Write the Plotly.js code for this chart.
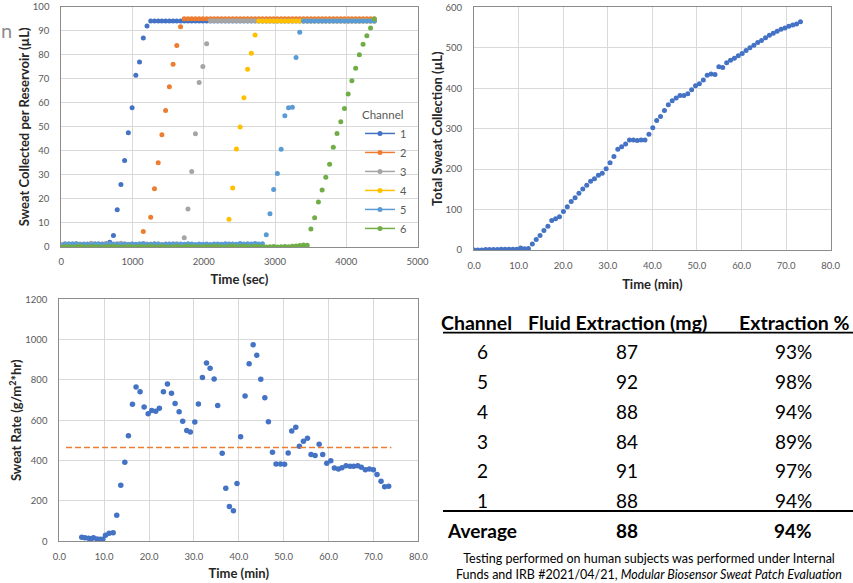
<!DOCTYPE html>
<html><head><meta charset="utf-8">
<script src="https://cdn.plot.ly/plotly-3.0.1.min.js"></script>
<style>html,body{margin:0;padding:0;background:#fff;}#chart{width:853px;height:583px;}</style>
</head><body><div id="chart"></div>
<script>
// ---------- DATA ----------
// Chart 1: sweat collected per reservoir (uL) vs time (sec)
const timeSec = [0,52,105,157,209,262,314,366,418,471,
  523,575,628,680,732,785,837,889,941,994,
  1046,1098,1151,1203,1255,1308,1360,1412,1464,1517,
  1569,1621,1674,1726,1778,1831,1883,1935,1987,2040,
  2092,2144,2197,2249,2301,2354,2406,2458,2510,2563,
  2615,2667,2720,2772,2824,2877,2929,2981,3033,3086,
  3138,3190,3243,3295,3347,3400,3452,3504,3556,3609,
  3661,3713,3766,3818,3870,3923,3975,4027,4079,4132,
  4184,4236,4289,4341,4393];
const channelNames = ['1','2','3','4','5','6'];
const channelColors = ['#4472C4','#ED7D31','#A5A5A5','#FFC000','#5B9BD5','#70AD47'];
const ch1 = [0.3,0.8,1.2,0.6,0.5,0.7,0.4,0.5,0.6,0.9,
  0.6,1.1,1.4,2.0,4.8,15.5,26.0,36.0,47.5,58.0,
  71.5,77.0,87.0,92.0,94,94,94,94,94,94,
  94,94,94,94,94,94,94,94,94,94,
  94,94,94,94,94,94,94,94,94,94,
  94,94,94,94,94,94,94,94,94,94,
  94,94,94,94,94,94,94,94,94,94,
  94,94,94,94,94,94,94,94,94,94,
  94,94,94,94,94];
const ch2 = [0.2,0.3,0.5,0.3,0.2,0.4,0.3,0.2,0.3,0.4,
  0.3,0.2,0.4,0.3,0.5,0.3,0.4,0.3,0.2,0.5,
  0.6,0.8,6.4,null,12.4,24.2,35.1,46.7,56.8,66.7,
  76.1,83.9,91.7,95,95,95,95,95,95,95,
  95,95,95,95,95,95,95,95,95,95,
  95,95,95,95,95,95,95,95,95,95,
  95,95,95,95,95,95,95,95,95,95,
  95,95,95,95,95,95,95,95,95,95,
  95,95,95,95,95];
const ch3 = [1.0,1.4,1.2,0.9,1.5,1.3,1.0,1.2,1.6,1.4,
  1.1,1.3,1.5,1.2,1.0,1.4,1.6,1.2,1.1,1.3,
  1.0,1.2,1.5,1.3,1.1,1.4,1.2,1.0,1.3,1.1,
  1.2,1.4,1.0,3.9,15.8,31.4,47.1,68.5,75.1,84.6,
  94.2,94.2,94.2,94.2,94.2,94.2,94.2,94.2,94.2,94.2,
  94.2,94.2,94.2,94.2,94.2,94.2,94.2,94.2,94.2,94.2,
  94.2,94.2,94.2,94.2,94.2,94.2,94.2,94.2,94.2,94.2,
  94.2,94.2,94.2,94.2,94.2,94.2,94.2,94.2,94.2,94.2,
  94.2,94.2,94.2,94.2,94.2];
const ch4 = [0.2,0.1,0.3,0.2,0.4,0.2,0.1,0.3,0.2,0.3,
  0.2,0.4,0.3,0.1,0.2,0.3,0.2,0.4,0.2,0.3,
  0.1,0.2,0.3,0.2,0.4,0.3,0.2,0.1,0.3,0.2,
  0.3,0.2,0.4,0.2,0.3,0.1,0.2,0.3,0.2,0.4,
  0.3,0.2,0.4,0.5,0.6,11.5,24.6,40.8,49.9,62.1,
  74.0,80.6,88.2,94,94,94,94,94,94,94,
  94,94,94,94,94,94,94,94,94,94,
  94,94,94,94,94,94,94,94,94,94,
  94,94,94,94,94];
const ch5 = [0.9,1.3,1.1,1.4,1.2,1.0,1.3,1.1,0.9,1.2,
  1.4,1.1,1.0,1.2,1.3,1.1,0.9,1.2,1.0,1.3,
  1.1,1.2,1.4,1.0,1.1,1.3,1.2,0.9,1.1,1.2,
  1.3,1.0,1.2,1.1,1.4,1.2,1.0,1.3,1.1,1.2,
  1.0,1.3,1.2,1.1,1.4,1.2,1.3,1.1,1.5,1.2,
  1.4,1.3,1.5,1.2,1.4,5.1,13.8,23.9,30.6,40.7,
  54.6,58.0,58.2,78.9,89.4,94,94,94,94,94,
  94,94,94,94,94,94,94,94,94,94,
  94,94,94,94,94];
const ch6 = [0.0,0.1,0.2,0.0,0.1,0.3,0.1,0.0,0.2,0.1,
  0.1,0.0,0.2,0.1,0.3,0.1,0.0,0.1,0.2,0.1,
  0.0,0.2,0.1,0.1,0.3,0.0,0.1,0.2,0.1,0.0,
  0.1,0.2,0.0,0.1,0.3,0.1,0.2,0.0,0.1,0.2,
  0.1,0.3,0.2,0.1,0.0,0.2,0.4,0.1,0.2,0.3,
  0.2,0.1,0.3,0.2,0.1,0.0,0.1,0.2,0.0,0.1,
  0.2,0.1,0.3,0.4,0.6,0.8,0.7,7.5,12.2,18.7,
  23.7,29.0,34.4,41.5,47.2,52.1,57.6,63.7,69.2,74.4,
  80.0,84.4,87.9,91.1,94.9];
const channelValues = [ch1, ch2, ch3, ch4, ch5, ch6];

// Chart 2: total sweat collection (uL) vs time (min)
const totalSweat = [0,0,0,1,1,1,1,2,2,2,
  2,2,5,3,4,15,26,36,48,59,
  73,77,82,95,107,120,129,140,151,160,
  170,176,185,190,201,216,231,249,255,262,
  272,272,271,272,272,286,302,320,330,345,
  359,369,376,382,382,386,396,406,411,420,
  432,435,434,453,451,463,469,474,480,486,
  493,500,506,513,518,525,531,536,541,546,
  549,553,556,559,564];

// Chart 3: sweat rate (g/m2*hr) vs time (min)
const rateTime = [5.0,5.7,6.5,7.1,7.6,8.4,9.1,9.7,10.3,11.1,
  12.0,12.8,13.7,14.6,15.4,16.3,17.1,18.0,18.9,19.8,
  20.6,21.5,22.3,23.2,24.1,25.0,25.8,26.7,27.5,28.4,
  29.2,30.2,31.0,31.9,32.8,33.6,34.5,35.3,36.3,37.1,
  37.9,38.8,39.6,40.4,41.4,42.3,43.2,44.0,44.9,45.8,
  46.6,47.5,48.3,49.3,50.2,51.0,51.8,52.7,53.5,54.4,
  55.3,56.1,57.0,57.9,58.7,59.6,60.5,61.3,62.2,63.0,
  63.9,64.8,65.6,66.5,67.3,68.2,69.1,70.0,70.8,71.7,
  72.5,73.4];
const sweatRate = [20,17,15,13,17,12,10,10,30,40,
  43,129,278,392,524,679,765,742,666,633,
  648,645,660,742,780,734,683,643,595,549,
  542,592,681,812,884,858,805,673,436,263,
  172,152,286,519,721,881,975,922,803,712,
  593,441,383,383,382,438,547,565,471,496,
  511,430,425,481,431,387,400,364,359,365,
  375,372,372,375,367,355,359,355,331,298,
  271,273];
const meanRate = 465;
const meanSpan = [1.5, 74.0];

// Table
const tableHeader = ['Channel', 'Fluid Extraction (mg)', 'Extraction %'];
const tableChannel = ['6','5','4','3','2','1'];
const tableFluidMg = [87, 92, 88, 84, 91, 88];
const tablePct = ['93%','98%','94%','89%','97%','94%'];
const avgRow = ['Average', '88', '94%'];
const footnote = ['Testing performed on human subjects was performed under Internal',
  'Funds and IRB #2021/04/21, <i>Modular Biosensor Sweat Patch Evaluation</i>'];

// ---------- STYLE / LAYOUT ----------
const W = 853, H = 583;
const FONT = 'Lato, "Open Sans", sans-serif';
const px = x => x / W;
const py = y => 1 - y / H;
const titleFont = {family: FONT, size: 13, color: '#262626'};
const tickFont = {family: FONT, size: 9.5, color: '#595959'};

function axis(domain, range, dtick, anchor, title, standoff, extra) {
  return Object.assign({
    domain: domain, range: range, dtick: dtick, anchor: anchor,
    showline: true, mirror: true, linecolor: '#8c8c8c', linewidth: 1,
    showgrid: true, gridcolor: '#d9d9d9', gridwidth: 1, zeroline: false,
    ticks: '', tickfont: tickFont, fixedrange: true, automargin: false,
    title: {text: '<b>' + title + '</b>', font: titleFont, standoff: standoff}
  }, extra || {});
}

const traces = [];
channelValues.forEach((vals, k) => {
  traces.push({type: 'scatter', mode: 'markers', x: timeSec, y: vals, xaxis: 'x', yaxis: 'y',
    marker: {color: channelColors[k], size: 5}, showlegend: false, hoverinfo: 'skip'});
});
channelValues.forEach((vals, k) => {
  traces.push({type: 'scatter', mode: 'lines+markers', x: [null], y: [null], xaxis: 'x', yaxis: 'y',
    name: channelNames[k], line: {color: channelColors[k], width: 1.5},
    marker: {color: channelColors[k], size: 5}, showlegend: true});
});
traces.push({type: 'scatter', mode: 'markers', x: timeSec.map(s => s / 60), y: totalSweat,
  xaxis: 'x2', yaxis: 'y2', marker: {color: '#4472C4', size: 5}, showlegend: false});
traces.push({type: 'scatter', mode: 'markers', x: rateTime, y: sweatRate,
  xaxis: 'x3', yaxis: 'y3', marker: {color: '#4472C4', size: 5.5}, showlegend: false});
traces.push({type: 'scatter', mode: 'lines', x: meanSpan, y: [meanRate, meanRate],
  xaxis: 'x3', yaxis: 'y3', line: {color: '#ED7D31', width: 1.6, dash: '6px,3px'}, showlegend: false});

// table annotations
const annotations = [];
const headerX = [477, 617, 794];
const valueX = [482, 627, 793];
const headerY = 322, rowY0 = 351.7, rowStep = 29.8, avgY = 530.5;
tableHeader.forEach((h, j) => annotations.push({xref: 'paper', yref: 'paper', x: px(headerX[j]), y: py(headerY),
  text: '<b>' + h + '</b>', showarrow: false, xanchor: 'center', yanchor: 'middle',
  font: {family: FONT, size: 19.5, color: '#000'}}));
tableChannel.forEach((c, r) => {
  const rowVals = [c, String(tableFluidMg[r]), tablePct[r]];
  rowVals.forEach((v, j) => annotations.push({xref: 'paper', yref: 'paper', x: px(valueX[j]), y: py(rowY0 + r * rowStep),
    text: v, showarrow: false, xanchor: 'center', yanchor: 'middle', font: {family: FONT, size: 19, color: '#000'}}));
});
avgRow.forEach((v, j) => annotations.push({xref: 'paper', yref: 'paper', x: px(valueX[j]), y: py(avgY),
  text: '<b>' + v + '</b>', showarrow: false, xanchor: 'center', yanchor: 'middle',
  font: {family: FONT, size: 19, color: '#000'}}));
annotations.push({xref: 'paper', yref: 'paper', x: px(649), y: py(583), text: footnote.join('<br>'),
  showarrow: false, xanchor: 'center', yanchor: 'bottom', align: 'center', borderpad: 0,
  font: {family: FONT, size: 12.5, color: '#000'}});
// cropped fragment of a heading at the far left edge
annotations.push({xref: 'paper', yref: 'paper', x: px(6), y: py(30), text: 'n', showarrow: false,
  xanchor: 'center', yanchor: 'middle', font: {family: FONT, size: 20, color: '#8c8c8c'}});

const shapes = [
  {type: 'line', xref: 'paper', yref: 'paper', x0: px(443), x1: px(853), y0: py(332.7), y1: py(332.7), line: {color: '#000', width: 1.8}},
  {type: 'line', xref: 'paper', yref: 'paper', x0: px(443), x1: px(853), y0: py(511), y1: py(511), line: {color: '#000', width: 2.2}}
];

const layout = {
  width: W, height: H, margin: {l: 0, r: 0, t: 0, b: 0, pad: 0},
  paper_bgcolor: '#fff', plot_bgcolor: '#fff', font: {family: FONT},
  hovermode: false, showlegend: true,
  legend: {x: px(360), y: py(104), xanchor: 'left', yanchor: 'top', bgcolor: 'rgba(0,0,0,0)',
    font: {family: FONT, size: 11, color: '#595959'}, itemwidth: 30,
    title: {text: 'Channel', font: {family: FONT, size: 11.5, color: '#595959'}}},
  xaxis: axis([px(61.3), px(417.5)], [0, 5000], 1000, 'y', 'Time (sec)', 8, {ticklabelstandoff: 6}),
  yaxis: axis([py(247), py(6.7)], [0, 100], 10, 'x', 'Sweat Collected per Reservoir (µL)', 0, {ticklabelstandoff: 9}),
  xaxis2: axis([px(474), px(830.7)], [0, 80], 10, 'y2', 'Time (min)', 9, {tickformat: '.1f', ticklabelstandoff: 7}),
  yaxis2: axis([py(250), py(7.3)], [0, 600], 100, 'x2', 'Total Sweat Collection (µL)', 0, {ticklabelstandoff: 9}),
  xaxis3: axis([px(59.3), px(418.3)], [0, 80], 10, 'y3', 'Time (min)', 8, {tickformat: '.1f', ticklabelstandoff: 6}),
  yaxis3: axis([py(541.3), py(299.3)], [0, 1200], 200, 'x3', 'Sweat Rate (g/m<sup>2</sup>*hr)', 0, {ticklabelstandoff: 9}),
  annotations: annotations, shapes: shapes
};

Plotly.newPlot('chart', traces, layout, {staticPlot: true, displayModeBar: false});
</script></body></html>
